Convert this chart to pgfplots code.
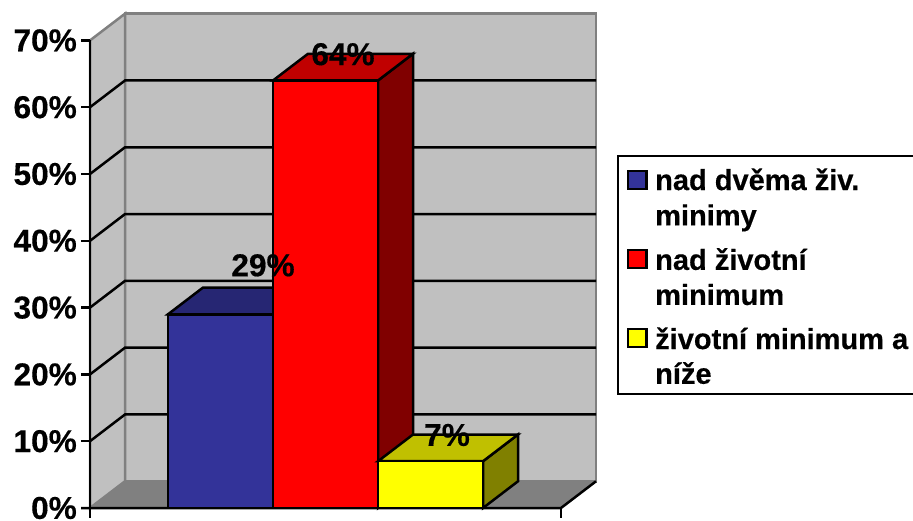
\documentclass[border=0pt]{standalone}
\usepackage{fontspec}
\setmainfont[BoldFeatures={FakeBold=0.4}]{Liberation Sans}
\usepackage{pgfplots}
\pgfplotsset{compat=1.18}
\definecolor{wall}{HTML}{C0C0C0}
\definecolor{floorc}{HTML}{808080}
\definecolor{bluef}{HTML}{333399}
\definecolor{bluet}{HTML}{262673}
\definecolor{redf}{HTML}{FF0000}
\definecolor{redt}{HTML}{C00000}
\definecolor{reds}{HTML}{800000}
\definecolor{yelf}{HTML}{FFFF00}
\definecolor{yelt}{HTML}{C0C000}
\definecolor{yels}{HTML}{808000}
\newcommand{\bigf}{\fontsize{31.6bp}{36bp}\selectfont\bfseries}
\newcommand{\legf}{\fontsize{29bp}{34bp}\selectfont\bfseries}
\begin{document}
\begin{tikzpicture}
\begin{axis}[
  scale only axis, width=913bp, height=521bp,
  xmin=0, xmax=913, ymin=-1.946, ymax=76.05,
  axis line style={draw=none}, tick style={draw=none},
  xtick=\empty,
  ytick={0,10,20,30,40,50,60,70},
  yticklabels={0\%,10\%,20\%,30\%,40\%,50\%,60\%,70\%},
  yticklabel style={anchor=east, xshift=77bp, font=\bigf, inner sep=0pt},
  clip=true,
  every axis plot/.append style={line join=miter, line cap=butt},
]
% walls and floor
\addplot[fill=wall, draw=floorc, line width=2.5bp] coordinates {(125,4) (125,74) (596,74) (596,4)} --cycle;
\addplot[fill=wall, draw=floorc, line width=2.5bp] coordinates {(90,0) (90,70) (125,74) (125,4)} --cycle;
\addplot[fill=floorc, draw=floorc, line width=1bp] coordinates {(90,0) (125,4) (596,4) (561,0)} --cycle;
% gridlines on walls
\addplot[black, line width=2.5bp] coordinates {(90,10) (125,14) (596,14)};
\addplot[black, line width=2.5bp] coordinates {(90,20) (125,24) (596,24)};
\addplot[black, line width=2.5bp] coordinates {(90,30) (125,34) (596,34)};
\addplot[black, line width=2.5bp] coordinates {(90,40) (125,44) (596,44)};
\addplot[black, line width=2.5bp] coordinates {(90,50) (125,54) (596,54)};
\addplot[black, line width=2.5bp] coordinates {(90,60) (125,64) (596,64)};
% axis lines and ticks
\addplot[black, line width=2.5bp] coordinates {(90,70) (90,-1.5)};
\addplot[black, line width=2.5bp] coordinates {(81,0) (561,0) (596,4)};
\addplot[black, line width=2.5bp] coordinates {(561,0) (561,-1.5)};
\addplot[black, line width=2.5bp] coordinates {(81,10) (90,10)};
\addplot[black, line width=2.5bp] coordinates {(81,20) (90,20)};
\addplot[black, line width=2.5bp] coordinates {(81,30) (90,30)};
\addplot[black, line width=2.5bp] coordinates {(81,40) (90,40)};
\addplot[black, line width=2.5bp] coordinates {(81,50) (90,50)};
\addplot[black, line width=2.5bp] coordinates {(81,60) (90,60)};
\addplot[black, line width=2.5bp] coordinates {(81,70) (90,70)};
% blue bar, 29 %
\addplot[fill=bluet, draw=black, line width=2.5bp] coordinates {(168,29) (203,33) (308,33) (273,29)} --cycle;
\addplot[fill=bluef, draw=black, line width=2.5bp] coordinates {(168,0) (168,29) (273,29) (273,0)} --cycle;
% yellow bar side, 7 %
\addplot[fill=yels, draw=black, line width=2.5bp] coordinates {(483,0) (483,7) (518,11) (518,4)} --cycle;
% red bar, 64 %
\addplot[fill=reds, draw=black, line width=2.5bp] coordinates {(378,0) (378,64) (413,68) (413,4)} --cycle;
\addplot[fill=redt, draw=black, line width=2.5bp] coordinates {(273,64) (308,68) (413,68) (378,64)} --cycle;
\addplot[fill=redf, draw=black, line width=2.5bp] coordinates {(273,0) (273,64) (378,64) (378,0)} --cycle;
% yellow top and front over the red side
\addplot[fill=yelt, draw=black, line width=2.5bp] coordinates {(378,7) (413,11) (518,11) (483,7)} --cycle;
\addplot[fill=yelf, draw=black, line width=2.5bp] coordinates {(378,0) (378,7) (483,7) (483,0)} --cycle;
% data labels
\node[anchor=base, font=\bigf, inner sep=0pt] at (axis cs:263,34.7) {29\%};
\node[anchor=base, font=\bigf, inner sep=0pt] at (axis cs:343,66.3) {64\%};
\node[anchor=base, font=\bigf, inner sep=0pt] at (axis cs:447,9.3) {7\%};
% legend box
\addplot[black, line width=2.5bp] coordinates {(915,52.69) (618,52.69) (618,17.06) (915,17.06)};
\addplot[fill=bluef, draw=black, line width=2.5bp] coordinates {(628,47.75) (628,50.45) (646.5,50.45) (646.5,47.75)} --cycle;
\addplot[fill=redf, draw=black, line width=2.5bp] coordinates {(628,35.93) (628,38.62) (646.5,38.62) (646.5,35.93)} --cycle;
\addplot[fill=yelf, draw=black, line width=2.5bp] coordinates {(628,24.1) (628,26.8) (646.5,26.8) (646.5,24.1)} --cycle;
\node[anchor=base west, font=\legf, inner sep=0pt] at (axis cs:655,47.6) {nad dvěma živ.};
\node[anchor=base west, font=\legf, inner sep=0pt] at (axis cs:655,42.3) {minimy};
\node[anchor=base west, font=\legf, inner sep=0pt] at (axis cs:655,35.65) {nad životní};
\node[anchor=base west, font=\legf, inner sep=0pt] at (axis cs:655,30.4) {minimum};
\node[anchor=base west, font=\legf, inner sep=0pt] at (axis cs:655,23.8) {životní minimum a};
\node[anchor=base west, font=\legf, inner sep=0pt] at (axis cs:655,18.6) {níže};
\end{axis}
\end{tikzpicture}
\end{document}
